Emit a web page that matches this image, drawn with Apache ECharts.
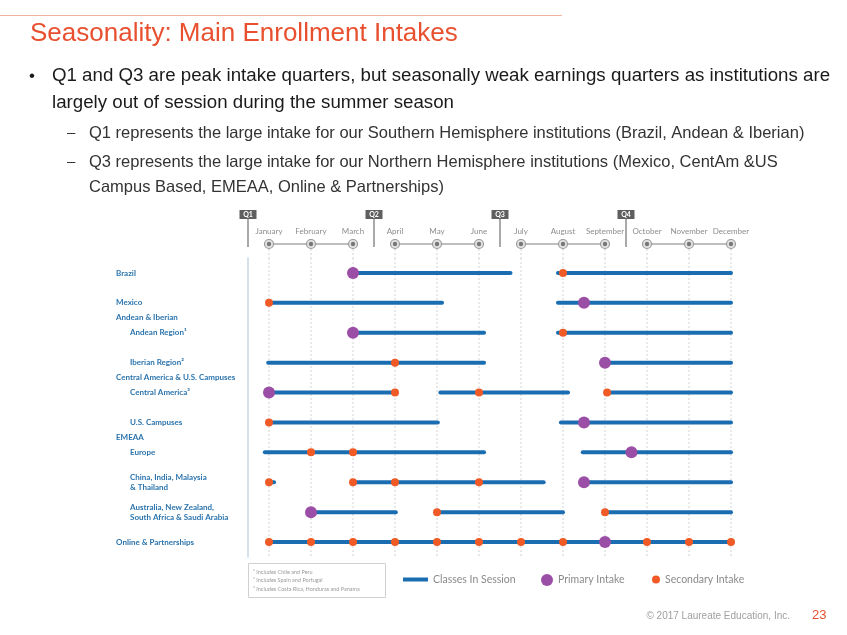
<!DOCTYPE html>
<html>
<head>
<meta charset="utf-8">
<script src="https://cdn.jsdelivr.net/npm/echarts@6/dist/echarts.min.js"></script>
<style>html,body{margin:0;padding:0;background:#fff}#c{width:847px;height:635px}</style>
</head>
<body>
<div id="c"></div>
<script>
// ---------- data ----------
const months = ['January','February','March','April','May','June','July','August','September','October','November','December'];
const monthValues = [1,2,3,4,5,6,7,8,9,10,11,12];
const quarters = ['Q1','Q2','Q3','Q4'];
const quarterStarts = [0.5,3.5,6.5,9.5];
const rows = ['Brazil','Mexico','Andean Region¹','Iberian Region²','Central America³','U.S. Campuses','Europe','China, India, Malaysia\n& Thailand','Australia, New Zealand,\nSouth Africa & Saudi Arabia','Online & Partnerships'];
const groups = ['Andean & Iberian','Central America & U.S. Campuses','EMEAA'];
const rowGroup = [-1,-1,0,0,1,1,2,2,2,-1];
// [row, start month, end month]
const classesInSession = [
  [0,3,6.75],[0,7.88,12],
  [1,1,5.12],[1,7.88,12],
  [2,3,6.12],[2,7.88,12],
  [3,0.98,6.12],[3,9,12],
  [4,1,4],[4,5.08,8.12],[4,9.05,12],
  [5,1,5.02],[5,7.95,12],
  [6,0.9,6.12],[6,8.47,12],
  [7,1,1.12],[7,3,7.54],[7,8.5,12],
  [8,2,4.02],[8,5,8],[8,9,12],
  [9,1,12]
];
// [month, row]
const primaryIntake = [[3,0],[8.5,1],[3,2],[9,3],[1,4],[8.5,5],[9.63,6],[8.5,7],[2,8],[9,9]];
const secondaryIntake = [
  [8,0],[1,1],[8,2],[4,3],[4,4],[6,4],[9.05,4],[1,5],[2,6],[3,6],
  [1,7],[3,7],[4,7],[6,7],[5,8],[9,8],
  [1,9],[2,9],[3,9],[4,9],[5,9],[6,9],[7,9],[8,9],[10,9],[11,9],[12,9]
];
const footnotes = ['¹ Includes Chile and Peru','² Includes Spain and Portugal','³ Includes Costa Rica, Honduras and Panama'];
const titleText = 'Seasonality: Main Enrollment Intakes';
const bulletLines = ['Q1 and Q3 are peak intake quarters, but seasonally weak earnings quarters as institutions are','largely out of session during the summer season'];
const subBulletLines = ['Q1 represents the large intake for our Southern Hemisphere institutions (Brazil, Andean & Iberian)','Q3 represents the large intake for our Northern Hemisphere institutions (Mexico, CentAm &US','Campus Based, EMEAA, Online & Partnerships)'];
const footerText = '© 2017 Laureate Education, Inc.';
const pageNumber = '23';

// ---------- styles ----------
const BLUE = '#1b6db1', PURPLE = '#9b4ea5', ORANGE = '#ef5a26', LABEL = '#2b74ad';
const labelFont = 'Lato';

const chart = echarts.init(document.getElementById('c'), null, {renderer:'canvas'});

function rowLabel(value, index) {
  const key = rowGroup[index] >= 0 ? 's' : 't';
  return value.split('\n').map(l => '{' + key + '|' + l + '}').join('\n');
}

const option = {
  animation: false,
  grid: [
    {left: 248, right: 95, top: 205, height: 53},
    {left: 248, right: 95, top: 258, bottom: 78}
  ],
  xAxis: [
    {gridIndex: 0, type: 'value', min: 0.5, max: 12.5, show: false},
    {gridIndex: 1, type: 'value', min: 0.5, max: 12.5, show: false}
  ],
  yAxis: [
    {gridIndex: 0, type: 'value', min: 0, max: 1, show: false},
    {gridIndex: 1, type: 'category', inverse: true, data: rows,
     axisLine: {show: true, lineStyle: {color: '#c9d6e2', width: 1.5}},
     axisTick: {show: false}, splitLine: {show: false},
     axisLabel: {align: 'left', margin: 132, formatter: rowLabel,
       rich: {
         t: {fontFamily: labelFont, fontWeight: 'bold', fontSize: 8, color: LABEL, lineHeight: 10},
         s: {fontFamily: labelFont, fontWeight: 'bold', fontSize: 8, color: LABEL, lineHeight: 10, padding: [0,0,0,14]}
       }}}
  ],
  legend: [
    {data: [{name: 'Classes In Session', icon: 'rect'}], left: 403, top: 574, padding: 0, itemWidth: 25, itemHeight: 4, selectedMode: false,
     textStyle: {color: '#8a8a8a', fontSize: 10.5, fontFamily: labelFont}},
    {data: [{name: 'Primary Intake', icon: 'circle'}], left: 541, top: 574, padding: 0, itemWidth: 12, itemHeight: 12, selectedMode: false,
     textStyle: {color: '#8a8a8a', fontSize: 10.5, fontFamily: labelFont}},
    {data: [{name: 'Secondary Intake', icon: 'circle'}], left: 652, top: 574, padding: 0, itemWidth: 8, itemHeight: 8, selectedMode: false,
     textStyle: {color: '#8a8a8a', fontSize: 10.5, fontFamily: labelFont}}
  ],
  series: [
    {
      type: 'custom', name: 'quarters', xAxisIndex: 0, yAxisIndex: 0, silent: true,
      data: quarterStarts.map((v, i) => [v, 0, i]),
      renderItem: function (params, api) {
        const x = api.coord([api.value(0), 0])[0];
        const top = params.coordSys.y;
        const i = api.value(2);
        return {type: 'group', children: [
          {type: 'line', shape: {x1: x, y1: top + 13, x2: x, y2: top + 42}, style: {stroke: '#8c8c8c', lineWidth: 1.5}},
          {type: 'rect', shape: {x: x - 8.5, y: top + 5, width: 17, height: 9}, style: {fill: '#5f5f5f'}},
          {type: 'text', style: {text: quarters[i], x: x, y: top + 9.8, align: 'center', verticalAlign: 'middle', fill: '#fff', font: 'bold 7px Lato'}}
        ]};
      }
    },
    {
      type: 'custom', name: 'months', xAxisIndex: 0, yAxisIndex: 0, silent: true,
      data: monthValues.map((m, i) => [m, 0, i]),
      renderItem: function (params, api) {
        const i = api.value(2);
        const x = api.coord([api.value(0), 0])[0];
        const top = params.coordSys.y;
        const bottom = top + params.coordSys.height;
        const children = [];
        if (i % 3 !== 2) {
          const xn = api.coord([monthValues[i + 1], 0])[0];
          children.push({type: 'line', shape: {x1: x, y1: top + 39, x2: xn, y2: top + 39}, style: {stroke: '#a8a8a8', lineWidth: 1.5}});
        }
        children.push({type: 'line', shape: {x1: x, y1: top + 44, x2: x, y2: bottom}, style: {stroke: '#d2d2d2', lineWidth: 1, lineDash: [2, 2]}});
        children.push({type: 'circle', shape: {cx: x, cy: top + 39, r: 4.5}, style: {fill: '#e4e4e4', stroke: '#9a9a9a', lineWidth: 1.2}});
        children.push({type: 'circle', shape: {cx: x, cy: top + 39, r: 2.2}, style: {fill: '#777'}});
        children.push({type: 'text', style: {text: months[i], x: x, y: top + 26, align: 'center', verticalAlign: 'middle', fill: '#8d8d8d', font: '8px Lato'}});
        return {type: 'group', children: children};
      }
    },
    {
      type: 'custom', name: 'gridlines', xAxisIndex: 1, yAxisIndex: 1, silent: true, z: 1,
      data: monthValues.map(m => [m, 0]),
      encode: {x: 0},
      renderItem: function (params, api) {
        const x = api.coord([api.value(0), 0])[0];
        const cs = params.coordSys;
        return {type: 'line', shape: {x1: x, y1: cs.y, x2: x, y2: cs.y + cs.height}, style: {stroke: '#d2d2d2', lineWidth: 1, lineDash: [2, 2]}};
      }
    },
    {
      type: 'custom', name: 'Classes In Session', xAxisIndex: 1, yAxisIndex: 1, z: 2,
      itemStyle: {color: BLUE},
      data: classesInSession,
      encode: {x: [1, 2], y: 0},
      renderItem: function (params, api) {
        const p1 = api.coord([api.value(1), api.value(0)]);
        const p2 = api.coord([api.value(2), api.value(0)]);
        return {type: 'line', shape: {x1: p1[0], y1: p1[1], x2: p2[0], y2: p2[1]}, style: {stroke: BLUE, lineWidth: 4, lineCap: 'round'}};
      }
    },
    {
      type: 'scatter', name: 'Secondary Intake', xAxisIndex: 1, yAxisIndex: 1, z: 3,
      symbol: 'circle', symbolSize: 8, itemStyle: {color: ORANGE, opacity: 1},
      data: secondaryIntake
    },
    {
      type: 'scatter', name: 'Primary Intake', xAxisIndex: 1, yAxisIndex: 1, z: 4,
      symbol: 'circle', symbolSize: 12, itemStyle: {color: PURPLE, opacity: 1},
      data: primaryIntake
    }
  ]
};

chart.setOption(option);

// ---------- page texts & group headers ----------
const els = [];
els.push({type: 'line', shape: {x1: 0, y1: 15.5, x2: 562, y2: 15.5}, style: {stroke: '#f2b39c', lineWidth: 1}, silent: true});
els.push({type: 'text', style: {text: titleText, x: 30, y: 34, verticalAlign: 'middle', fill: '#e8502f', font: '26px "Liberation Sans"'}});
els.push({type: 'text', style: {text: '•', x: 29, y: 76, verticalAlign: 'middle', fill: '#1a1a1a', font: '17px "Liberation Sans"'}});
bulletLines.forEach((t, i) => els.push({type: 'text', style: {text: t, x: 52, y: [76, 103][i], verticalAlign: 'middle', fill: '#1a1a1a', font: '18.7px "Liberation Sans"'}}));
els.push({type: 'text', style: {text: '–', x: 67, y: 133, verticalAlign: 'middle', fill: '#333', font: '15px "Liberation Sans"'}});
els.push({type: 'text', style: {text: '–', x: 67, y: 162, verticalAlign: 'middle', fill: '#333', font: '15px "Liberation Sans"'}});
subBulletLines.forEach((t, i) => els.push({type: 'text', style: {text: t, x: 89, y: [133, 162, 187][i], verticalAlign: 'middle', fill: '#333', font: '16.5px "Liberation Sans"'}}));
// footnote box
els.push({type: 'rect', shape: {x: 248.5, y: 563.5, width: 137, height: 34}, style: {fill: 'none', stroke: '#d0d0d0', lineWidth: 1}});
footnotes.forEach((t, i) => els.push({type: 'text', style: {text: t, x: 253, y: [572, 580.5, 589][i], verticalAlign: 'middle', fill: '#9a9a9a', font: '5.5px Lato'}}));
// footer
els.push({type: 'text', style: {text: footerText, x: 790, y: 616, align: 'right', verticalAlign: 'middle', fill: '#a0a0a0', font: '10px "Liberation Sans"'}});
els.push({type: 'text', style: {text: pageNumber, x: 812, y: 615, verticalAlign: 'middle', fill: '#e8502f', font: '13px "Liberation Sans"'}});
// group headers between rows
groups.forEach((g, gi) => {
  const first = rowGroup.indexOf(gi);
  const yPrev = chart.convertToPixel({xAxisIndex: 1, yAxisIndex: 1}, [1, first - 1])[1];
  const yCur = chart.convertToPixel({xAxisIndex: 1, yAxisIndex: 1}, [1, first])[1];
  els.push({type: 'text', style: {text: g, x: 116, y: (yPrev + yCur) / 2, verticalAlign: 'middle', fill: LABEL, font: 'bold 8px Lato'}});
});
chart.setOption({graphic: {elements: els}});
</script>
</body>
</html>
